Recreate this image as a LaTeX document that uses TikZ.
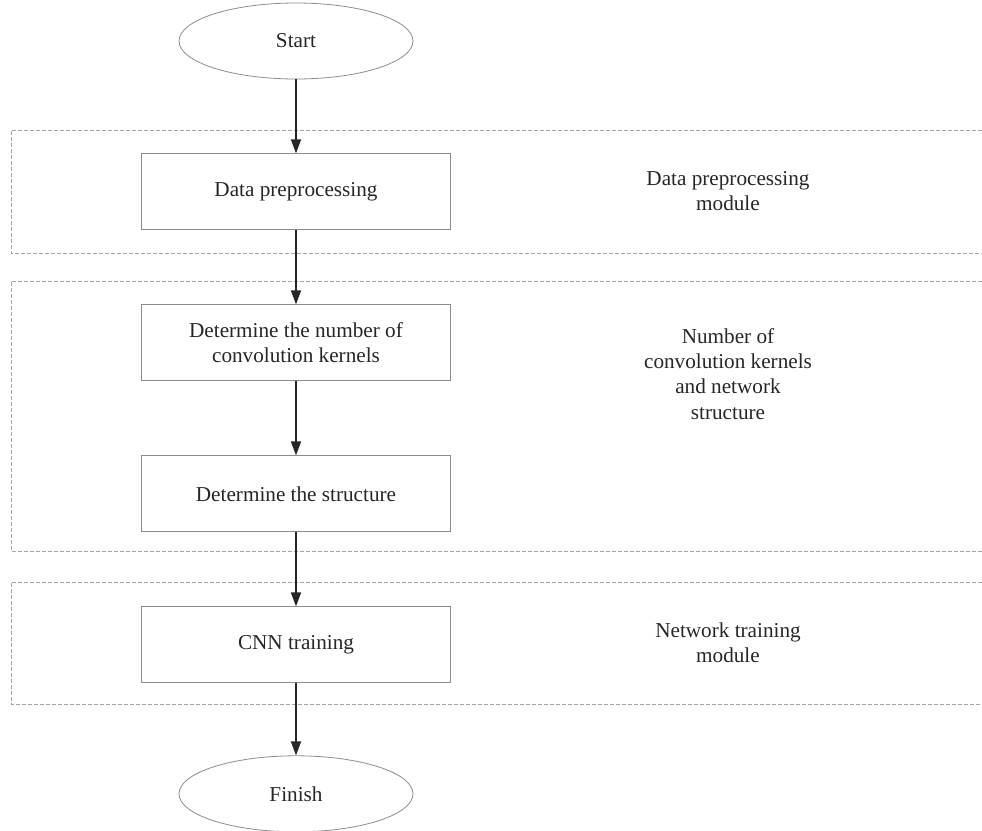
\documentclass[tikz,border=0pt]{standalone}
\usepackage{fontspec}
\setmainfont{Liberation Serif}
\usetikzlibrary{positioning, shapes.geometric, arrows.meta}

\begin{document}
\begin{tikzpicture}[
        x=0.5pt, y=-0.5pt,
        node distance=37pt,
        every node/.style={align=center, font=\fontsize{10.6}{12.6}\selectfont, text=black!85},
        process/.style={draw=black!45, line width=0.5pt, minimum width=154.5pt, minimum height=38pt},
        terminal/.style={ellipse, draw=black!45, line width=0.4pt, minimum width=117pt, minimum height=38pt, inner sep=0pt},
        module/.style={draw=black!35, dash pattern=on 2pt off 1pt, line width=0.4pt},
        flow/.style={draw=black!85, line width=0.7pt, -{Triangle[length=7pt,width=5pt]}}
      ]
      \useasboundingbox (0,0) rectangle (982,831);

      % module frames
      \draw[module] (982,130) -- (11,130) -- (11,253) -- (982,253);
      \draw[module] (982,281) -- (11,281) -- (11,551) -- (982,551);
      \draw[module] (982,582) -- (11,582) -- (11,704) -- (982,704);

      % flow
      \node[terminal] (start) at (296,41) {Start};
      \node[process, below=of start] (prep) {Data preprocessing};
      \node[process, below=of prep] (kernels) {Determine the number of\\convolution kernels};
      \node[process, below=of kernels] (struct) {Determine the structure};
      \node[process, below=of struct] (train) {CNN training};
      \node[terminal, below=36pt of train] (finish) {Finish};

      \draw[flow] (start) -- (prep);
      \draw[flow] (prep) -- (kernels);
      \draw[flow] (kernels) -- (struct);
      \draw[flow] (struct) -- (train);
      \draw[flow] (train) -- (finish);

      % module labels
      \node (prepmod) at (728,191) {Data preprocessing\\module};
      \node (cnnmod) at (728,374) {Number of\\convolution kernels\\and network\\structure};
      \node (trainmod) at (728,643) {Network training\\module};

      \end{tikzpicture}
\end{document}
